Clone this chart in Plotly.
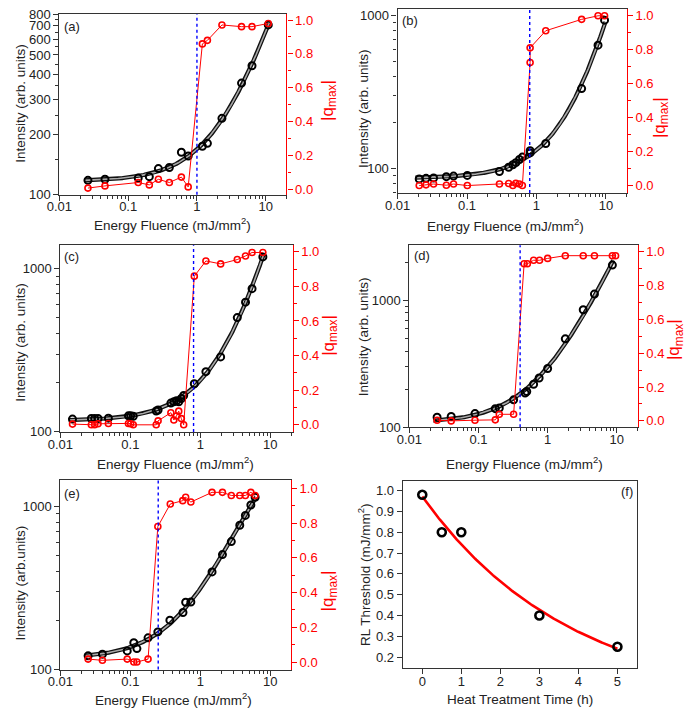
import numpy as np
import plotly.graph_objects as go

W, H = 685, 716
FONT = "Arial, Liberation Sans, sans-serif"
AXC = "#333333"
RED = "#ff0000"
BLUE = "#0000ff"

# ---------------- data ----------------
# (a)
a_x = [0.026, 0.046, 0.14, 0.203, 0.275, 0.397, 0.594, 0.746, 1.2, 1.42, 2.31, 4.45, 6.32, 10.9]
a_int = [118, 119.4, 121.1, 123.1, 135.1, 136.7, 163.1, 156, 174.6, 180.6, 241, 361.5, 441.6, 706.6]
a_qx = [0.026, 0.046, 0.14, 0.203, 0.275, 0.397, 0.594, 0.746, 1.2, 1.42, 2.31, 4.45, 6.32, 10.9]
a_q = [0.006, 0.019, 0.039, 0.025, 0.058, 0.039, 0.071, 0.013, 0.859, 0.880, 0.971, 0.961, 0.961, 0.980]
# (b)
b_x = [0.0205, 0.0257, 0.033, 0.0504, 0.064, 0.101, 0.293, 0.398, 0.457, 0.505, 0.569, 0.627,
       0.81, 0.81, 1.36, 4.47, 7.7, 9.56]
b_int = [85.4, 86.3, 86.7, 88.5, 89.3, 90.2, 95.7, 102, 106, 109.3, 114.7, 118.9,
         126.6, 131, 146, 334, 643, 937]
b_qx = [0.0205, 0.0257, 0.033, 0.0504, 0.064, 0.101, 0.293, 0.398, 0.457, 0.505, 0.569, 0.627,
        0.81, 0.81, 1.36, 4.47, 7.7, 9.56]
b_q = [0.0, 0.004, 0.009, 0.002, 0.009, 0.0, 0.009, 0.012, 0.0, 0.013, 0.009, 0.0,
       0.725, 0.811, 0.912, 0.979, 1.0, 1.0]
# (c)
c_x = [0.0149, 0.0277, 0.0309, 0.0345, 0.0485, 0.0938, 0.101, 0.110, 0.234, 0.249, 0.379, 0.418,
       0.456, 0.491, 0.535, 0.578, 0.82, 1.2, 1.95, 3.37, 4.42, 5.48, 7.82]
c_int = [119.8, 120.9, 120.9, 120.9, 121.4, 125.4, 125.4, 124.8, 134.4, 136.3, 150.2, 153.1,
         155.2, 153.1, 160.3, 167.1, 197.3, 233.9, 288.2, 501.9, 623.8, 754.6, 1181]
c_qx = [0.0149, 0.0277, 0.0309, 0.0345, 0.0485, 0.0938, 0.101, 0.110, 0.234, 0.249, 0.379, 0.418,
        0.456, 0.491, 0.535, 0.578, 0.82, 1.2, 1.95, 3.37, 4.42, 5.48, 7.82]
c_q = [0.004, 0.0, 0.0, 0.006, 0.008, 0.008, 0.006, 0.0, 0.0, 0.023, 0.07, 0.028,
       0.051, 0.079, 0.036, 0.0, 0.859, 0.947, 0.930, 0.955, 0.976, 0.996, 0.996]
# (d)
d_x = [0.0252, 0.0403, 0.089, 0.175, 0.2, 0.322, 0.472, 0.499, 0.627, 0.753, 1.0, 1.8, 3.27, 4.75, 8.63]
d_int = [120.2, 121.6, 128.3, 140.3, 141.8, 164.7, 186.6, 191.9, 218.9, 244.9, 291.1, 499.3, 847.3, 1127, 1909]
d_qx = [0.0252, 0.0403, 0.089, 0.175, 0.2, 0.322, 0.457, 0.509, 0.627, 0.763, 1.0, 1.8, 3.27, 4.75, 8.63, 9.6]
d_q = [0.004, 0.0, 0.004, 0.006, 0.039, 0.039, 0.929, 0.929, 0.95, 0.95, 0.961, 0.977, 0.977, 0.977, 0.977, 0.977]
# (e)
e_x = [0.0249, 0.0399, 0.0902, 0.112, 0.124, 0.179, 0.247, 0.367, 0.565, 0.617, 0.732, 1.47, 2.07,
       2.77, 3.66, 4.4, 5.27, 6.07]
e_int = [121.3, 124.2, 130, 146, 134.4, 156.4, 170, 200.6, 223.4, 258.2, 259.4, 396.3, 505.8,
         608, 765.9, 879.6, 1018, 1137]
e_qx = [0.0249, 0.0399, 0.0902, 0.112, 0.124, 0.179, 0.247, 0.372, 0.56, 0.617, 0.732, 1.47, 2.07,
        2.77, 3.66, 4.4, 5.27, 6.07]
e_q = [0.017, 0.01, 0.017, 0.0, 0.0, 0.017, 0.78, 0.91, 0.929, 0.949, 0.921, 0.977, 0.977,
       0.959, 0.959, 0.959, 0.977, 0.959]
# thresholds (blue dotted lines)
thresholds = [1.0, 0.8, 0.8, 0.4, 0.25]
# (f)
f_time = [0, 0.5, 1, 3, 5]
f_thr = [0.98, 0.80, 0.80, 0.40, 0.25]

x_ticks = [0.01, 0.1, 1, 10]
x_ticktext = ["0.01", "0.1", "1", "10"]
q_ticks = [0.0, 0.2, 0.4, 0.6, 0.8, 1.0]
q_ticktext = ["0.0", "0.2", "0.4", "0.6", "0.8", "1.0"]


# ---------------- helpers ----------------
def px_x(v):
    return v / W


def px_y(v):
    return 1 - v / H


def fit_curve(x, y):
    x = np.asarray(x, float)
    y = np.asarray(y, float)
    c = np.polyfit(x, y, 2, w=1.0 / y)
    xs = np.logspace(np.log10(x.min() * 0.88), np.log10(x.max() * 1.03), 300)
    return xs, np.polyval(c, xs)


def exp_fit(x, y):
    x = np.asarray(x, float)
    y = np.asarray(y, float)
    best = None
    for t in np.linspace(0.5, 30, 3000):
        e = np.exp(-x / t)
        A = np.vstack([np.ones_like(e), e]).T
        coef = np.linalg.lstsq(A, y, rcond=None)[0]
        r = np.sum((A @ coef - y) ** 2)
        if best is None or r < best[0]:
            best = (r, t, coef)
    _, t, coef = best
    xs = np.linspace(x.min(), x.max(), 200)
    return xs, coef[0] + coef[1] * np.exp(-xs / t)


minor_x = [v * m for v in (0.01, 0.1, 1, 10) for m in range(2, 10) if v * m <= 20]
minor_y_log = [v * m for v in (10, 100, 1000) for m in range(2, 10)]

panels = [
    dict(box=(47.3, 7.3, 278.7, 191.7), xr=(0.01, 20), yr=(100, 800), qr=(-0.033, 1.035),
         x=a_x, i=a_int, qx=a_qx, q=a_q,
         yt=[100, 200, 300, 400, 500, 600, 700, 800], ym=[150, 250, 350, 450, 550, 650, 750]),
    dict(box=(392, 1.7, 625.7, 190), xr=(0.01, 20), yr=(10 ** 1.84, 10 ** 3.047), qr=(-0.044, 1.042),
         x=b_x, i=b_int, qx=b_qx, q=b_q, yt=[100, 1000], ym=minor_y_log),
    dict(box=(48.3, 243.3, 285, 434), xr=(0.01, 20.8), yr=(100, 10 ** 3.144), qr=(-0.041, 1.038),
         x=c_x, i=c_int, qx=c_qx, q=c_q, yt=[100, 1000], ym=minor_y_log),
    dict(box=(404, 243.3, 636.7, 429.3), xr=(0.01, 20), yr=(100, 10 ** 3.438), qr=(-0.038, 1.039),
         x=d_x, i=d_int, qx=d_qx, q=d_q, yt=[100, 1000], ym=minor_y_log),
    dict(box=(48.3, 483.3, 283.3, 676.7), xr=(0.01, 19.7), yr=(100, 10 ** 3.16), qr=(-0.043, 1.047),
         x=e_x, i=e_int, qx=e_qx, q=e_q, yt=[100, 1000], ym=minor_y_log),
]

fig = go.Figure()
layout = dict(
    width=W, height=H, margin=dict(l=0, r=0, t=0, b=0),
    paper_bgcolor="white", plot_bgcolor="white", showlegend=False,
    font=dict(family=FONT, size=13, color="#222"),
)
shapes = []
annotations = []

tickfont = dict(family=FONT, size=13, color="#222")
redfont = dict(family=FONT, size=13, color=RED)

for k, p in enumerate(panels):
    n = k + 1
    xa = "xaxis" if n == 1 else f"xaxis{n}"
    xr_ = "x" if n == 1 else f"x{n}"
    yl = 2 * k + 1
    yr_i = 2 * k + 2
    yla = "yaxis" if yl == 1 else f"yaxis{yl}"
    ylr = "y" if yl == 1 else f"y{yl}"
    yra = f"yaxis{yr_i}"
    yrr = f"y{yr_i}"
    l, t, r, b = p["box"]

    layout[xa] = dict(
        type="log", domain=[px_x(l), px_x(r)], anchor=ylr,
        range=[np.log10(p["xr"][0]), np.log10(p["xr"][1])],
        showline=True, linecolor=AXC, linewidth=1.2, mirror=True,
        ticks="outside", ticklen=5, tickwidth=1, tickcolor=AXC,
        tickvals=x_ticks, ticktext=x_ticktext, tickfont=tickfont, ticklabelstandoff=-5,
        minor=dict(ticks="outside", ticklen=3, tickcolor=AXC, tickmode="array",
                   tickvals=minor_x, showgrid=False),
        showgrid=False, zeroline=False,
    )
    layout[yla] = dict(
        type="log", domain=[px_y(b), px_y(t)], anchor=xr_,
        range=[np.log10(p["yr"][0]), np.log10(p["yr"][1])],
        showline=True, linecolor=AXC, linewidth=1.2, mirror=False,
        ticks="outside", ticklen=5, tickwidth=1, tickcolor=AXC,
        tickvals=p["yt"], ticktext=[str(v) for v in p["yt"]], tickfont=tickfont,
        minor=dict(ticks="outside", ticklen=3, tickcolor=AXC, tickmode="array",
                   tickvals=p["ym"], showgrid=False),
        showgrid=False, zeroline=False,
    )
    layout[yra] = dict(
        overlaying=ylr, side="right", anchor=xr_,
        range=list(p["qr"]),
        showline=True, linecolor=RED, linewidth=1.2,
        ticks="outside", ticklen=5, tickwidth=1, tickcolor=RED,
        tickvals=q_ticks, ticktext=q_ticktext, tickfont=redfont,
        minor=dict(ticks="outside", ticklen=3, tickcolor=RED, tickmode="array",
                   tickvals=[0.1, 0.3, 0.5, 0.7, 0.9], showgrid=False),
        showgrid=False, zeroline=False,
    )

    xs, ys = fit_curve(p["x"], p["i"])
    fig.add_trace(go.Scatter(x=xs, y=ys, xaxis=xr_, yaxis=ylr, mode="lines",
                             line=dict(color="#111", width=4.2), hoverinfo="skip"))
    fig.add_trace(go.Scatter(x=xs, y=ys, xaxis=xr_, yaxis=ylr, mode="lines",
                             line=dict(color="#a8a8a8", width=1.6), hoverinfo="skip"))
    fig.add_trace(go.Scatter(x=p["x"], y=p["i"], xaxis=xr_, yaxis=ylr, mode="markers",
                             marker=dict(symbol="circle-open", size=7, color="black",
                                         line=dict(width=2, color="black"))))
    fig.add_trace(go.Scatter(x=p["qx"], y=p["q"], xaxis=xr_, yaxis=yrr, mode="lines+markers",
                             line=dict(color=RED, width=1),
                             marker=dict(symbol="circle-open", size=6, color=RED,
                                         line=dict(width=1.6, color=RED))))
    shapes.append(dict(type="line", xref=xr_, yref=f"{ylr} domain", x0=thresholds[k], x1=thresholds[k],
                       y0=0, y1=1, line=dict(color=BLUE, width=1.4, dash="dot")))

# panel (f)
l, t, r, b = 397.3, 484, 636, 675
layout["xaxis6"] = dict(
    domain=[px_x(l), px_x(r)], anchor="y11", range=[-0.5, 5.5],
    showline=True, linecolor=AXC, linewidth=1.2, mirror=True,
    ticks="outside", ticklen=5, tickcolor=AXC, tickvals=[0, 1, 2, 3, 4, 5],
    tickfont=tickfont, ticklabelstandoff=-4, showgrid=False, zeroline=False,
)
layout["yaxis11"] = dict(
    domain=[px_y(b), px_y(t)], anchor="x6", range=[0.1485, 1.047],
    showline=True, linecolor=AXC, linewidth=1.2, mirror=True,
    ticks="outside", ticklen=5, tickcolor=AXC,
    tickvals=[0.2, 0.3, 0.4, 0.5, 0.6, 0.7, 0.8, 0.9, 1.0],
    ticktext=["0.2", "0.3", "0.4", "0.5", "0.6", "0.7", "0.8", "0.9", "1.0"],
    tickfont=tickfont, showgrid=False, zeroline=False,
)
fx, fy = exp_fit(f_time, f_thr)
fig.add_trace(go.Scatter(x=fx, y=fy, xaxis="x6", yaxis="y11", mode="lines",
                         line=dict(color=RED, width=2.6), hoverinfo="skip"))
fig.add_trace(go.Scatter(x=f_time, y=f_thr, xaxis="x6", yaxis="y11", mode="markers",
                         marker=dict(symbol="circle-open", size=8, color="black",
                                     line=dict(width=2.6, color="black"))))


def ann(text, x, y, size=13, color="#222", angle=0):
    annotations.append(dict(text=text, x=px_x(x), y=px_y(y), xref="paper", yref="paper",
                            xanchor="center", yanchor="middle", showarrow=False,
                            textangle=angle, font=dict(family=FONT, size=size, color=color)))


EF = "Energy Fluence (mJ/mm<sup>2</sup>)"
for (x, y) in [(163, 222), (502, 223), (166, 466), (521, 466), (164, 707)]:
    ann(EF, x, y, size=13.5)
ann("Heat Treatment Time (h)", 517, 707, size=13.5)

for (x, y, txt) in [(8, 98, "Intensity (arb. units)"), (358, 104, "Intensity (arb. units)"),
                    (8, 342, "Intensity (arb. units)"), (358, 337, "Intensity (arb. units)"),
                    (8, 588, "Intensity (arb.units)"), (358, 580, "RL Threshold (mJ/mm<sup>2</sup>)")]:
    ann(txt, x, y, size=13.5, angle=-90)

for (x, y) in [(322, 95), (660, 113), (323, 335), (675, 340), (322, 596)]:
    ann("|q<sub>max</sub>|", x, y, size=17, color=RED, angle=-90)

for (x, y, txt) in [(60, 20, "(a)"), (405, 14, "(b)"), (60, 255, "(c)"), (417, 254, "(d)"),
                    (60, 497, "(e)"), (626, 495, "(f)")]:
    ann(txt, x, y, size=13)

layout["shapes"] = shapes
layout["annotations"] = annotations
fig.update_layout(**layout)
fig.write_html("out.html", config={"displayModeBar": False},
               post_script="document.body.style.margin='0px';document.body.style.overflow='hidden';")
